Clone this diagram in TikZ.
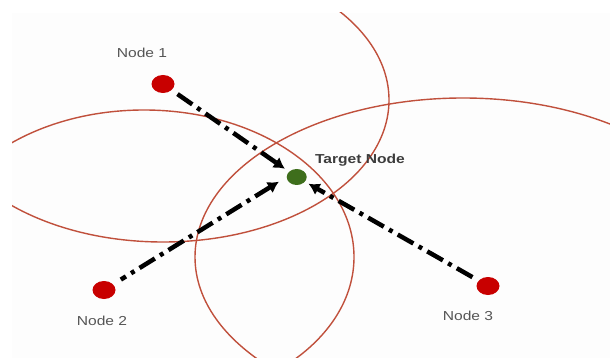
\documentclass[tikz,border=0pt]{standalone}
\usepackage{fontspec}
\setmainfont{Liberation Sans}[FakeStretch=1.2]
\usetikzlibrary{shapes.geometric,arrows.meta}

\definecolor{ringred}{RGB}{192,80,60}
\definecolor{dotred}{RGB}{200,0,0}
\definecolor{dotgreen}{RGB}{62,110,28}
\definecolor{labelgray}{RGB}{85,85,85}
\definecolor{titlegray}{RGB}{60,60,60}

\tikzset{
  ring/.style={ringred,line width=1.4pt},
  reddot/.style={ellipse,fill=dotred,minimum width=23pt,minimum height=18pt,inner sep=0pt},
  greendot/.style={ellipse,fill=dotgreen,minimum width=20pt,minimum height=16pt,inner sep=0pt},
  nodelabel/.style={labelgray,font=\fontsize{13}{15}\selectfont,anchor=base,inner sep=0pt},
  link/.style={line width=4.5pt,dash pattern=on 18pt off 6pt on 4pt off 6pt,-{Latex[length=11pt,width=13pt]}}
}

\begin{document}
\begin{tikzpicture}[x=1pt,y=-1pt]
\useasboundingbox (0,0) rectangle (610,358);
\fill[black!0.8] (12,13) rectangle (610,358);
% range circles
\begin{scope}
\clip (12,13) rectangle (610,358);
\draw[ring] (163,100) ellipse [x radius=226, y radius=142];
\draw[ring] (144,257) ellipse [x radius=210, y radius=147];
\draw[ring] (463,257) ellipse [x radius=268, y radius=159];
\end{scope}
% anchors and target
\node[reddot] (n1) at (163,84) {};
\node[reddot] (n2) at (104,290) {};
\node[reddot] (n3) at (488,286) {};
\node[greendot] (tgt) at (296.7,177) {};
\node[nodelabel] (l1) at (142,58) {Node 1};
\node[nodelabel] (l2) at (102,325) {Node 2};
\node[nodelabel] (l3) at (468,320) {Node 3};
\node[nodelabel,titlegray,font=\fontsize{13}{15}\selectfont\bfseries] (lt) at (360,164) {Target Node};
% distance links
\draw[link,shorten <=7pt,shorten >=5pt] (n1) -- (tgt);
\draw[link,dash phase=12pt,shorten <=9pt,shorten >=9pt] (n2) -- (tgt.west);
\draw[link,shorten <=7pt,shorten >=4pt] (n3) -- (tgt);
\end{tikzpicture}
\end{document}
